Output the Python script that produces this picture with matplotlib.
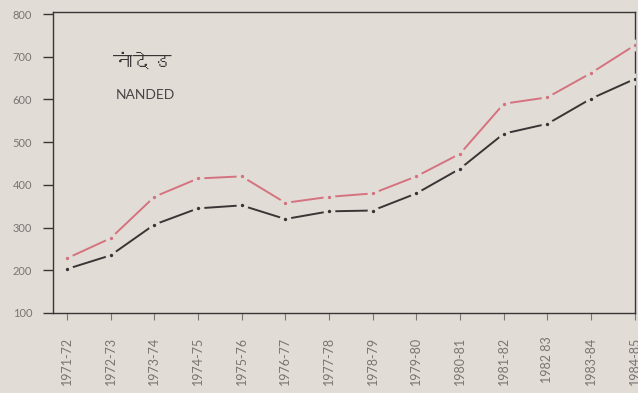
import matplotlib
matplotlib.use("Agg")
import matplotlib.pyplot as plt
from matplotlib import font_manager
from matplotlib.ft2font import FT2Font

# yearly series
years = ["1971-72", "1972-73", "1973-74", "1974-75", "1975-76", "1976-77",
         "1977-78", "1978-79", "1979-80", "1980-81", "1981-82", "1982 83",
         "1983-84", "1984-85"]
upper = [228, 275, 372, 415, 420, 358, 372, 380, 420, 473, 590, 605, 662, 727]
lower = [203, 235, 307, 345, 352, 320, 338, 340, 380, 438, 520, 543, 602, 648]
y_ticks = [100, 200, 300, 400, 500, 600, 700, 800]

BG = "#e2dcd7"
RED = "#d4737f"
DARK = "#3a3535"
GREY = "#7a7572"


def find_devanagari_font():
    for f in font_manager.fontManager.ttflist:
        try:
            if 0x0928 in FT2Font(f.fname).get_charmap():
                return f.name
        except Exception:
            continue
    return None


deva = find_devanagari_font()
base_font = "Lato"

fig = plt.figure(figsize=(6.38, 3.93), dpi=100, facecolor=BG)
ax = fig.add_axes([0.083, 0.2036, 0.912, 0.766])
ax.set_facecolor(BG)

x = list(range(len(years)))
for vals, col in ((upper, RED), (lower, DARK)):
    ax.plot(x, vals, color=col, lw=1.4, marker="o", ms=5.5,
            mfc=col, mec=BG, mew=3.0, zorder=3)

ax.set_xlim(-0.32, len(years) - 1)
ax.set_ylim(100, 805)
ax.set_yticks(y_ticks)
ax.set_xticks(x)
ax.set_xticklabels(years, rotation=90, fontsize=9, color=GREY, family=base_font)
ax.set_yticklabels([str(v) for v in y_ticks], fontsize=8, color=GREY,
                   family=base_font)
ax.tick_params(axis="y", length=7, width=1, color=DARK, pad=8)
ax.tick_params(axis="x", length=5, width=0.8, color=GREY, pad=12)
for s in ax.spines.values():
    s.set_color(DARK)
    s.set_linewidth(1.0)

hindi_family = [deva, "DejaVu Sans"] if deva else ["DejaVu Sans"]
ax.text(1.05, 690, "नांदेड", fontsize=14, color=DARK, family=hindi_family,
        va="center", ha="left")
ax.text(1.12, 610, "NANDED", fontsize=10, color="#4a4545", family=base_font,
        va="center", ha="left")

fig.savefig("out.png", dpi=100, facecolor=BG)
